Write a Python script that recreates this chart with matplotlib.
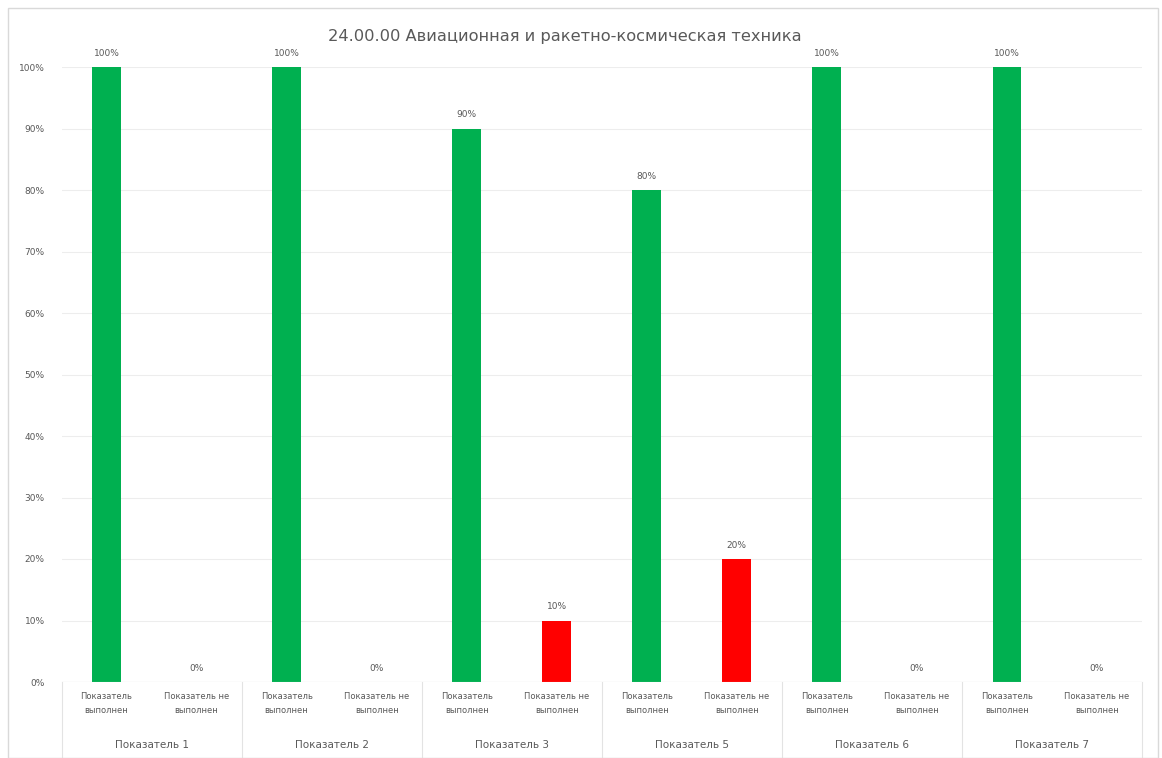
import numpy as np
import matplotlib.pyplot as plt
from matplotlib.patches import Rectangle

# данные
title = '24.00.00 Авиационная и ракетно-космическая техника'
groups = ['Показатель 1', 'Показатель 2', 'Показатель 3', 'Показатель 5', 'Показатель 6', 'Показатель 7']
sub_labels = ['Показатель\nвыполнен', 'Показатель не\nвыполнен']
done = [100, 100, 90, 80, 100, 100]
not_done = [0, 0, 10, 20, 0, 0]
y_ticks = [0, 10, 20, 30, 40, 50, 60, 70, 80, 90, 100]

green = '#00B050'
red = '#FF0000'
txt = '#595959'

W, H = 1162, 758
fig = plt.figure(figsize=(W / 100, H / 100), dpi=100)
x0, x1, ybot, ytop = 61.5, 1142, 682, 67
ax = fig.add_axes([x0 / W, (H - ybot) / H, (x1 - x0) / W, (ybot - ytop) / H])

# рамка диаграммы
fig.patches.append(Rectangle((8 / W, 0), (1158 - 8) / W, (H - 8) / H, transform=fig.transFigure,
                             fill=False, edgecolor='#D9D9D9', lw=1))

values = []
colors = []
for d, n in zip(done, not_done):
    values += [d, n]
    colors += [green, red]
x = np.arange(len(values))
bars = ax.bar(x, values, width=0.32, color=colors, zorder=3)

for xi, v in zip(x, values):
    ax.text(xi, v + 1.5, f'{v}%', ha='center', va='bottom', fontsize=6.5, color=txt, clip_on=False)

ax.set_xlim(-0.5, len(values) - 0.5)
ax.set_ylim(0, 100)
ax.set_yticks(y_ticks)
ax.set_yticklabels([f'{t}%' for t in y_ticks], fontsize=6.5, color=txt)
ax.tick_params(axis='y', length=0, pad=12)
ax.tick_params(axis='x', length=0)
ax.set_xticks([])
ax.grid(axis='y', color='#EDEDED', lw=0.8, zorder=0)
for s in ax.spines.values():
    s.set_visible(False)
ax.axhline(0, color='#D9D9D9', lw=0.8, zorder=4)

# подписи категорий
for xi in x:
    ax.text(xi, -1.6, sub_labels[xi % 2], ha='center', va='top', fontsize=6, color=txt,
            linespacing=1.8, clip_on=False)
for gi, g in enumerate(groups):
    ax.text(2 * gi + 0.5, -10.3, g, ha='center', va='center', fontsize=7.5, color=txt, clip_on=False)
for b in range(len(groups) + 1):
    xb = 2 * b - 0.5
    ax.plot([xb, xb], [0, -13], color='#E3E3E3', lw=0.8, clip_on=False)

fig.text(565 / W, 1 - 37 / H, title, ha='center', va='center', fontsize=11.7, color='#595959')

plt.savefig('out.png', dpi=100)
